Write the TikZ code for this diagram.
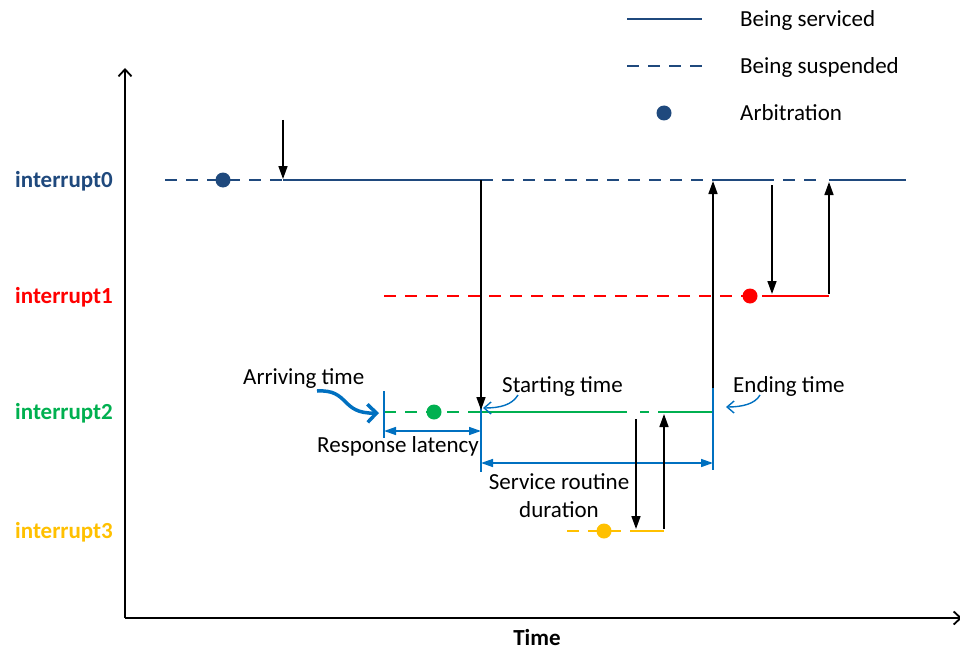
\documentclass[tikz,border=0pt]{standalone}
\usepackage{fontspec}
\setmainfont{Carlito}
\usetikzlibrary{arrows.meta}
\definecolor{iblue}{RGB}{31,73,125}
\definecolor{ired}{RGB}{255,0,0}
\definecolor{igreen}{RGB}{0,176,80}
\definecolor{iyellow}{RGB}{255,192,0}
\definecolor{markblue}{RGB}{0,112,192}
\begin{document}
\begin{tikzpicture}[x=1pt,y=-1pt,
  font=\fontsize{23}{27}\selectfont,
  serv/.style={line width=1.5pt},
  susp/.style={line width=1.5pt, dash pattern=on 12pt off 9pt},
  arb/.style={circle, inner sep=0pt, minimum size=15pt, fill=#1},
  evt/.style={line width=1.6pt, -{Triangle[length=13pt,width=9pt]}},
  tickline/.style={markblue, line width=1.5pt},
  span/.style={markblue, line width=1.5pt,
    {Triangle[length=12pt,width=8pt]}-{Triangle[length=12pt,width=8pt]}},
  rowlabel/.style={font=\fontsize{23}{27}\selectfont\bfseries, anchor=base west, inner sep=0pt},
  txt/.style={anchor=base west, inner sep=0pt},
  axis/.style={line width=1.8pt, -{Straight Barb[length=7pt,width=13pt]}},
  callout/.style={markblue, line width=1.4pt, -{Straight Barb[length=7pt,width=12pt]}}
]
\useasboundingbox (0,0) rectangle (960,650);

% ---------- axes ----------
\coordinate (O) at (125,618);
\coordinate (ytop) at (125,68);
\coordinate (xend) at (962,618);
\draw[axis] (O) -- (ytop);
\draw[axis] (O) -- (xend);
\node[font=\fontsize{23}{27}\selectfont\bfseries, anchor=base, inner sep=0pt] (tlabel) at (537,645) {Time};

% ---------- legend ----------
\coordinate (lg1a) at (627,19);  \coordinate (lg1b) at (702,19);
\coordinate (lg2a) at (627,66);  \coordinate (lg2b) at (702,66);
\draw[serv, iblue] (lg1a) -- (lg1b);
\draw[susp, iblue] (lg2a) -- (lg2b);
\node[arb=iblue] (lgdot) at (664,113) {};
\node[txt] (lgt1) at (740,27) {Being serviced};
\node[txt] (lgt2) at (740,74) {Being suspended};
\node[txt] (lgt3) at (740,121) {Arbitration};

% ---------- row labels ----------
\node[rowlabel, iblue]   (l0) at (15,187) {interrupt0};
\node[rowlabel, ired]    (l1) at (15,303) {interrupt1};
\node[rowlabel, igreen]  (l2) at (15,419) {interrupt2};
\node[rowlabel, iyellow] (l3) at (15,538) {interrupt3};

% ---------- interrupt0 ----------
\coordinate (a0s) at (165,180);
\coordinate (a0p) at (283,180);
\coordinate (a0q) at (481,180);
\coordinate (a0r) at (713,180);
\coordinate (a0t) at (764,180);
\coordinate (a0u) at (829,180);
\coordinate (a0e) at (906,180);
\draw[susp, iblue] (a0s) -- (a0p);
\draw[serv, iblue] (a0p) -- (a0q);
\draw[susp, iblue] (a0q) -- (a0r);
\draw[serv, iblue] (a0r) -- (a0t);
\draw[susp, iblue, dash pattern=on 10pt off 9pt on 12pt off 9pt on 12pt off 13pt] (a0t) -- (a0u);
\draw[serv, iblue] (a0u) -- (a0e);
\node[arb=iblue] (d0) at (223,180) {};

% ---------- interrupt1 ----------
\coordinate (a1s) at (384,296);
\coordinate (a1p) at (772,296);
\coordinate (a1e) at (829,296);
\draw[susp, ired] (a1s) -- (a1p);
\draw[serv, ired] (a1p) -- (a1e);
\node[arb=ired] (d1) at (750,296) {};

% ---------- interrupt2 ----------
\coordinate (a2s) at (384,412);
\coordinate (a2p) at (481,412);
\coordinate (a2q) at (627,412);
\coordinate (a2r) at (668,412);
\coordinate (a2e) at (713,412);
\draw[susp, igreen] (a2s) -- (a2p);
\draw[serv, igreen] (a2p) -- (a2q);
\draw[serv, igreen, dash pattern=on 0pt off 13pt on 9pt off 9pt on 10pt] (a2q) -- (a2r);
\draw[serv, igreen] (a2r) -- (a2e);
\node[arb=igreen] (d2) at (434,412) {};

% ---------- interrupt3 ----------
\coordinate (a3s) at (567,531);
\coordinate (a3p) at (636,531);
\coordinate (a3e) at (664,531);
\draw[susp, iyellow] (a3s) -- (a3p);
\draw[serv, iyellow] (a3p) -- (a3e);
\node[arb=iyellow] (d3) at (604,531) {};

% ---------- timing marks ----------
\coordinate (t1a) at (384,391); \coordinate (t1b) at (384,438);
\coordinate (t2a) at (481,390); \coordinate (t2b) at (481,472);
\coordinate (t3a) at (713,388); \coordinate (t3b) at (713,470);
\draw[tickline] (t1a) -- (t1b);
\draw[tickline] (t2a) -- (t2b);
\draw[tickline] (t3a) -- (t3b);
\coordinate (r1) at (384,431); \coordinate (r2) at (481,431);
\coordinate (s1) at (481,463); \coordinate (s2) at (713,463);
\draw[span] (r1) -- (r2);
\draw[span] (s1) -- (s2);

% ---------- preemption / return events ----------
\coordinate (e1a) at (283,120); \coordinate (e1b) at (283,179);
\coordinate (e2a) at (481,180); \coordinate (e2b) at (481,410);
\coordinate (e3a) at (713,388); \coordinate (e3b) at (713,181);
\coordinate (e4a) at (772,185); \coordinate (e4b) at (772,294);
\coordinate (e5a) at (829,294); \coordinate (e5b) at (829,182);
\coordinate (e6a) at (636,419); \coordinate (e6b) at (636,529);
\coordinate (e7a) at (664,529); \coordinate (e7b) at (664,414);
\draw[evt] (e1a) -- (e1b);
\draw[evt] (e2a) -- (e2b);
\draw[evt] (e3a) -- (e3b);
\draw[evt] (e4a) -- (e4b);
\draw[evt] (e5a) -- (e5b);
\draw[evt] (e6a) -- (e6b);
\draw[evt] (e7a) -- (e7b);

% ---------- annotations ----------
\node[txt] (arrT) at (243,384) {Arriving time};
\node[txt] (resT) at (317,452) {Response latency};
\node[txt] (staT) at (502,392) {Starting time};
\node[txt] (endT) at (733,392) {Ending time};
\node[anchor=base, inner sep=0pt] (srvT) at (559,489) {Service routine};
\node[anchor=base, inner sep=0pt] (durT) at (559,517) {duration};

\coordinate (c1a) at (317,391); \coordinate (c1b) at (379,413);
\draw[markblue, line width=3.5pt, -{Straight Barb[length=9pt,width=18pt]}]
  (c1a) .. controls (350,389) and (340,414) .. (c1b);
\coordinate (c2a) at (518,395); \coordinate (c2b) at (483,408);
\draw[callout] (c2a) .. controls (512,405) and (500,408) .. (c2b);
\coordinate (c3a) at (760,395); \coordinate (c3b) at (726,407);
\draw[callout] (c3a) .. controls (755,404) and (742,407) .. (c3b);
\end{tikzpicture}
\end{document}
